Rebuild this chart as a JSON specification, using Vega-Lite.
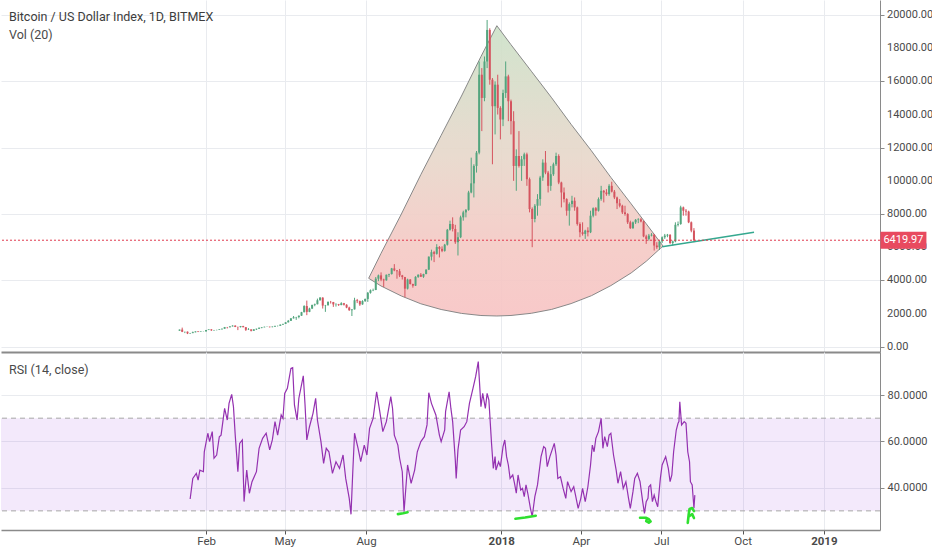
{
  "$schema": "https://vega.github.io/schema/vega-lite/v6.json",
  "padding": 0,
  "background": "#ffffff",
  "spacing": 0,
  "data": {"values": [{}]},
  "config": {
    "view": {"stroke": null},
    "font": "Roboto"
  },
  "datasets": {
    "ohlc": [
      {"t":"2017-01-02","o":965,"h":1035,"l":960,"c":1030},
      {"t":"2017-01-05","o":1030,"h":1150,"l":880,"c":900},
      {"t":"2017-01-08","o":900,"h":910,"l":820,"c":905},
      {"t":"2017-01-11","o":905,"h":915,"l":760,"c":800},
      {"t":"2017-01-14","o":800,"h":830,"l":780,"c":820},
      {"t":"2017-01-17","o":820,"h":910,"l":815,"c":870},
      {"t":"2017-01-20","o":870,"h":925,"l":865,"c":920},
      {"t":"2017-01-23","o":920,"h":930,"l":880,"c":890},
      {"t":"2017-01-26","o":890,"h":920,"l":885,"c":915},
      {"t":"2017-01-29","o":915,"h":925,"l":905,"c":920},
      {"t":"2017-02-01","o":920,"h":1010,"l":915,"c":1005},
      {"t":"2017-02-04","o":1005,"h":1045,"l":1000,"c":1040},
      {"t":"2017-02-07","o":1040,"h":1060,"l":950,"c":990},
      {"t":"2017-02-10","o":990,"h":1010,"l":960,"c":1000},
      {"t":"2017-02-13","o":1000,"h":1020,"l":990,"c":1010},
      {"t":"2017-02-16","o":1010,"h":1050,"l":1005,"c":1045},
      {"t":"2017-02-19","o":1045,"h":1090,"l":1040,"c":1085},
      {"t":"2017-02-22","o":1085,"h":1190,"l":1080,"c":1180},
      {"t":"2017-02-25","o":1180,"h":1190,"l":1100,"c":1170},
      {"t":"2017-02-28","o":1170,"h":1230,"l":1165,"c":1225},
      {"t":"2017-03-03","o":1225,"h":1290,"l":1220,"c":1270},
      {"t":"2017-03-06","o":1270,"h":1290,"l":1180,"c":1190},
      {"t":"2017-03-09","o":1190,"h":1210,"l":1000,"c":1180},
      {"t":"2017-03-12","o":1180,"h":1250,"l":1160,"c":1240},
      {"t":"2017-03-15","o":1240,"h":1260,"l":1170,"c":1175},
      {"t":"2017-03-18","o":1175,"h":1180,"l":950,"c":1020},
      {"t":"2017-03-21","o":1020,"h":1120,"l":1010,"c":1040},
      {"t":"2017-03-24","o":1040,"h":1050,"l":920,"c":960},
      {"t":"2017-03-27","o":960,"h":1060,"l":950,"c":1045},
      {"t":"2017-03-30","o":1045,"h":1090,"l":1010,"c":1080},
      {"t":"2017-04-02","o":1080,"h":1160,"l":1075,"c":1140},
      {"t":"2017-04-05","o":1140,"h":1180,"l":1110,"c":1170},
      {"t":"2017-04-08","o":1170,"h":1210,"l":1165,"c":1200},
      {"t":"2017-04-11","o":1200,"h":1215,"l":1190,"c":1205},
      {"t":"2017-04-14","o":1205,"h":1210,"l":1160,"c":1180},
      {"t":"2017-04-17","o":1180,"h":1220,"l":1170,"c":1210},
      {"t":"2017-04-20","o":1210,"h":1260,"l":1200,"c":1255},
      {"t":"2017-04-23","o":1255,"h":1270,"l":1220,"c":1260},
      {"t":"2017-04-26","o":1260,"h":1340,"l":1255,"c":1330},
      {"t":"2017-04-29","o":1330,"h":1380,"l":1320,"c":1375},
      {"t":"2017-05-02","o":1375,"h":1480,"l":1370,"c":1470},
      {"t":"2017-05-05","o":1470,"h":1610,"l":1460,"c":1560},
      {"t":"2017-05-08","o":1560,"h":1720,"l":1550,"c":1710},
      {"t":"2017-05-11","o":1710,"h":1850,"l":1700,"c":1770},
      {"t":"2017-05-14","o":1770,"h":1800,"l":1620,"c":1790},
      {"t":"2017-05-17","o":1790,"h":1880,"l":1710,"c":1870},
      {"t":"2017-05-20","o":1870,"h":2100,"l":1860,"c":2080},
      {"t":"2017-05-23","o":2080,"h":2500,"l":2070,"c":2450},
      {"t":"2017-05-26","o":2450,"h":2780,"l":1900,"c":2100},
      {"t":"2017-05-29","o":2100,"h":2350,"l":2080,"c":2300},
      {"t":"2017-06-01","o":2300,"h":2530,"l":2270,"c":2520},
      {"t":"2017-06-04","o":2520,"h":2600,"l":2440,"c":2560},
      {"t":"2017-06-07","o":2560,"h":2900,"l":2550,"c":2800},
      {"t":"2017-06-10","o":2800,"h":2990,"l":2780,"c":2960},
      {"t":"2017-06-13","o":2960,"h":2980,"l":2300,"c":2480},
      {"t":"2017-06-16","o":2480,"h":2520,"l":2100,"c":2500},
      {"t":"2017-06-19","o":2500,"h":2730,"l":2480,"c":2700},
      {"t":"2017-06-22","o":2700,"h":2760,"l":2600,"c":2690},
      {"t":"2017-06-25","o":2690,"h":2700,"l":2400,"c":2550},
      {"t":"2017-06-28","o":2550,"h":2620,"l":2420,"c":2560},
      {"t":"2017-07-01","o":2560,"h":2580,"l":2460,"c":2510},
      {"t":"2017-07-04","o":2510,"h":2680,"l":2500,"c":2620},
      {"t":"2017-07-07","o":2620,"h":2640,"l":2480,"c":2530},
      {"t":"2017-07-10","o":2530,"h":2560,"l":2320,"c":2360},
      {"t":"2017-07-13","o":2360,"h":2410,"l":2160,"c":2200},
      {"t":"2017-07-16","o":2200,"h":2260,"l":1850,"c":2250},
      {"t":"2017-07-19","o":2250,"h":2950,"l":2240,"c":2800},
      {"t":"2017-07-22","o":2800,"h":2880,"l":2630,"c":2750},
      {"t":"2017-07-25","o":2750,"h":2780,"l":2460,"c":2550},
      {"t":"2017-07-28","o":2550,"h":2800,"l":2530,"c":2750},
      {"t":"2017-07-31","o":2750,"h":2900,"l":2700,"c":2880},
      {"t":"2017-08-03","o":2880,"h":3300,"l":2700,"c":3250},
      {"t":"2017-08-06","o":3250,"h":3450,"l":3200,"c":3400},
      {"t":"2017-08-09","o":3400,"h":3500,"l":3350,"c":3420},
      {"t":"2017-08-12","o":3420,"h":4200,"l":3410,"c":4100},
      {"t":"2017-08-15","o":4100,"h":4350,"l":3950,"c":4300},
      {"t":"2017-08-18","o":4300,"h":4480,"l":3950,"c":4050},
      {"t":"2017-08-21","o":4050,"h":4100,"l":3600,"c":4000},
      {"t":"2017-08-24","o":4000,"h":4350,"l":3980,"c":4340},
      {"t":"2017-08-27","o":4340,"h":4400,"l":4200,"c":4380},
      {"t":"2017-08-30","o":4380,"h":4750,"l":4350,"c":4720},
      {"t":"2017-09-02","o":4720,"h":4980,"l":4550,"c":4600},
      {"t":"2017-09-05","o":4600,"h":4620,"l":4100,"c":4550},
      {"t":"2017-09-08","o":4550,"h":4690,"l":4200,"c":4300},
      {"t":"2017-09-11","o":4300,"h":4330,"l":4050,"c":4200},
      {"t":"2017-09-14","o":4200,"h":4210,"l":2980,"c":3500},
      {"t":"2017-09-17","o":3500,"h":4100,"l":3450,"c":4050},
      {"t":"2017-09-20","o":4050,"h":4080,"l":3750,"c":3780},
      {"t":"2017-09-23","o":3780,"h":3800,"l":3560,"c":3680},
      {"t":"2017-09-26","o":3680,"h":4250,"l":3660,"c":4210},
      {"t":"2017-09-29","o":4210,"h":4360,"l":4150,"c":4340},
      {"t":"2017-10-02","o":4340,"h":4440,"l":4210,"c":4220},
      {"t":"2017-10-05","o":4220,"h":4400,"l":4150,"c":4380},
      {"t":"2017-10-08","o":4380,"h":4660,"l":4370,"c":4650},
      {"t":"2017-10-11","o":4650,"h":5440,"l":4620,"c":5430},
      {"t":"2017-10-14","o":5430,"h":5850,"l":5200,"c":5700},
      {"t":"2017-10-17","o":5700,"h":5780,"l":5100,"c":5600},
      {"t":"2017-10-20","o":5600,"h":6180,"l":5550,"c":6010},
      {"t":"2017-10-23","o":6010,"h":6070,"l":5380,"c":5900},
      {"t":"2017-10-26","o":5900,"h":6050,"l":5700,"c":5780},
      {"t":"2017-10-29","o":5780,"h":6200,"l":5730,"c":6150},
      {"t":"2017-11-01","o":6150,"h":7100,"l":6100,"c":7050},
      {"t":"2017-11-04","o":7050,"h":7600,"l":7000,"c":7400},
      {"t":"2017-11-07","o":7400,"h":7800,"l":6950,"c":7100},
      {"t":"2017-11-10","o":7100,"h":7350,"l":6200,"c":6300},
      {"t":"2017-11-13","o":6300,"h":6900,"l":5500,"c":6600},
      {"t":"2017-11-16","o":6600,"h":7900,"l":6550,"c":7800},
      {"t":"2017-11-19","o":7800,"h":8200,"l":7600,"c":8100},
      {"t":"2017-11-22","o":8100,"h":8300,"l":7800,"c":8250},
      {"t":"2017-11-25","o":8250,"h":9400,"l":8200,"c":9300},
      {"t":"2017-11-28","o":9300,"h":11400,"l":9250,"c":9850},
      {"t":"2017-12-01","o":9850,"h":11000,"l":9000,"c":10900},
      {"t":"2017-12-04","o":10900,"h":11800,"l":10500,"c":11700},
      {"t":"2017-12-07","o":11700,"h":17200,"l":11600,"c":16400},
      {"t":"2017-12-10","o":16400,"h":16800,"l":13000,"c":15000},
      {"t":"2017-12-13","o":15000,"h":17500,"l":14800,"c":17200},
      {"t":"2017-12-16","o":17200,"h":19700,"l":16800,"c":19100},
      {"t":"2017-12-19","o":19100,"h":19200,"l":15800,"c":16100},
      {"t":"2017-12-22","o":16100,"h":16200,"l":11000,"c":14500},
      {"t":"2017-12-25","o":14500,"h":16000,"l":12800,"c":15800},
      {"t":"2017-12-28","o":15800,"h":16400,"l":14000,"c":14400},
      {"t":"2017-12-31","o":14400,"h":14500,"l":12500,"c":13700},
      {"t":"2018-01-03","o":13700,"h":15500,"l":13300,"c":15300},
      {"t":"2018-01-06","o":15300,"h":17200,"l":15000,"c":16300},
      {"t":"2018-01-09","o":16300,"h":16400,"l":13600,"c":14800},
      {"t":"2018-01-12","o":14800,"h":14900,"l":12800,"c":13600},
      {"t":"2018-01-15","o":13600,"h":14200,"l":10000,"c":10900},
      {"t":"2018-01-18","o":10900,"h":11900,"l":9400,"c":11500},
      {"t":"2018-01-21","o":11500,"h":13000,"l":10800,"c":10900},
      {"t":"2018-01-24","o":10900,"h":11500,"l":10000,"c":11300},
      {"t":"2018-01-27","o":11300,"h":11700,"l":10900,"c":11600},
      {"t":"2018-01-30","o":11600,"h":11700,"l":9700,"c":10100},
      {"t":"2018-02-02","o":10100,"h":10200,"l":8100,"c":8300},
      {"t":"2018-02-05","o":8300,"h":8400,"l":6000,"c":7700},
      {"t":"2018-02-08","o":7700,"h":8600,"l":7500,"c":8500},
      {"t":"2018-02-11","o":8500,"h":9200,"l":7900,"c":8900},
      {"t":"2018-02-14","o":8900,"h":10300,"l":8500,"c":10200},
      {"t":"2018-02-17","o":10200,"h":11300,"l":10000,"c":11100},
      {"t":"2018-02-20","o":11100,"h":11800,"l":10400,"c":10500},
      {"t":"2018-02-23","o":10500,"h":10600,"l":9300,"c":9700},
      {"t":"2018-02-26","o":9700,"h":10900,"l":9400,"c":10400},
      {"t":"2018-03-01","o":10400,"h":11100,"l":10300,"c":11000},
      {"t":"2018-03-04","o":11000,"h":11700,"l":10900,"c":11500},
      {"t":"2018-03-07","o":11500,"h":11600,"l":9800,"c":9900},
      {"t":"2018-03-10","o":9900,"h":9950,"l":8400,"c":9300},
      {"t":"2018-03-13","o":9300,"h":9600,"l":8700,"c":8900},
      {"t":"2018-03-16","o":8900,"h":8950,"l":7900,"c":8200},
      {"t":"2018-03-19","o":8200,"h":8700,"l":7300,"c":8600},
      {"t":"2018-03-22","o":8600,"h":9100,"l":8400,"c":8800},
      {"t":"2018-03-25","o":8800,"h":9000,"l":8200,"c":8400},
      {"t":"2018-03-28","o":8400,"h":8450,"l":7300,"c":7400},
      {"t":"2018-03-31","o":7400,"h":7500,"l":6600,"c":6900},
      {"t":"2018-04-03","o":6900,"h":7500,"l":6700,"c":6800},
      {"t":"2018-04-06","o":6800,"h":7050,"l":6500,"c":7000},
      {"t":"2018-04-09","o":7000,"h":7200,"l":6650,"c":6900},
      {"t":"2018-04-12","o":6900,"h":8200,"l":6850,"c":7900},
      {"t":"2018-04-15","o":7900,"h":8400,"l":7800,"c":8350},
      {"t":"2018-04-18","o":8350,"h":8420,"l":7900,"c":8200},
      {"t":"2018-04-21","o":8200,"h":9000,"l":8150,"c":8900},
      {"t":"2018-04-24","o":8900,"h":9700,"l":8800,"c":9400},
      {"t":"2018-04-27","o":9400,"h":9450,"l":8700,"c":9300},
      {"t":"2018-04-30","o":9300,"h":9500,"l":9100,"c":9200},
      {"t":"2018-05-03","o":9200,"h":9800,"l":9100,"c":9700},
      {"t":"2018-05-06","o":9700,"h":9950,"l":9300,"c":9350},
      {"t":"2018-05-09","o":9350,"h":9450,"l":8900,"c":9000},
      {"t":"2018-05-12","o":9000,"h":9050,"l":8300,"c":8650},
      {"t":"2018-05-15","o":8650,"h":8900,"l":8400,"c":8500},
      {"t":"2018-05-18","o":8500,"h":8560,"l":8000,"c":8100},
      {"t":"2018-05-21","o":8100,"h":8500,"l":7900,"c":8000},
      {"t":"2018-05-24","o":8000,"h":8050,"l":7400,"c":7500},
      {"t":"2018-05-27","o":7500,"h":7600,"l":7100,"c":7150},
      {"t":"2018-05-30","o":7150,"h":7550,"l":7100,"c":7500},
      {"t":"2018-06-02","o":7500,"h":7700,"l":7400,"c":7650},
      {"t":"2018-06-05","o":7650,"h":7750,"l":7450,"c":7680},
      {"t":"2018-06-08","o":7680,"h":7750,"l":7500,"c":7550},
      {"t":"2018-06-11","o":7550,"h":7600,"l":6600,"c":6650},
      {"t":"2018-06-14","o":6650,"h":6750,"l":6200,"c":6500},
      {"t":"2018-06-17","o":6500,"h":6800,"l":6400,"c":6700},
      {"t":"2018-06-20","o":6700,"h":6850,"l":6650,"c":6750},
      {"t":"2018-06-23","o":6750,"h":6800,"l":5800,"c":6100},
      {"t":"2018-06-26","o":6100,"h":6300,"l":5900,"c":6000},
      {"t":"2018-06-29","o":6000,"h":6400,"l":5830,"c":6350},
      {"t":"2018-07-02","o":6350,"h":6650,"l":6250,"c":6600},
      {"t":"2018-07-05","o":6600,"h":6800,"l":6500,"c":6700},
      {"t":"2018-07-08","o":6700,"h":6800,"l":6600,"c":6750},
      {"t":"2018-07-11","o":6750,"h":6780,"l":6200,"c":6250},
      {"t":"2018-07-14","o":6250,"h":6400,"l":6100,"c":6350},
      {"t":"2018-07-17","o":6350,"h":7500,"l":6300,"c":7350},
      {"t":"2018-07-20","o":7350,"h":7550,"l":7250,"c":7400},
      {"t":"2018-07-23","o":7400,"h":8500,"l":7350,"c":8400},
      {"t":"2018-07-26","o":8400,"h":8450,"l":7900,"c":8200},
      {"t":"2018-07-29","o":8200,"h":8300,"l":7900,"c":8150},
      {"t":"2018-08-01","o":8150,"h":8200,"l":7450,"c":7500},
      {"t":"2018-08-04","o":7500,"h":7550,"l":6900,"c":7000},
      {"t":"2018-08-07","o":7000,"h":7150,"l":6300,"c":6420}
    ],
    "rsi": [
      {"t":"2017-01-14","v":35.1},{"t":"2017-01-17","v":44.0},{"t":"2017-01-21","v":46.2},{"t":"2017-01-23","v":43.3},
      {"t":"2017-01-25","v":47.6},{"t":"2017-01-29","v":46.9},{"t":"2017-01-30","v":55.5},{"t":"2017-02-03","v":63.5},
      {"t":"2017-02-05","v":59.9},{"t":"2017-02-08","v":64.2},{"t":"2017-02-10","v":52.7},{"t":"2017-02-13","v":54.1},
      {"t":"2017-02-16","v":62.0},{"t":"2017-02-18","v":62.7},{"t":"2017-02-22","v":74.2},{"t":"2017-02-25","v":69.2},
      {"t":"2017-02-27","v":76.4},{"t":"2017-03-02","v":80.3},{"t":"2017-03-04","v":75.0},{"t":"2017-03-06","v":62.7},
      {"t":"2017-03-09","v":46.9},{"t":"2017-03-11","v":59.1},{"t":"2017-03-14","v":60.6},{"t":"2017-03-16","v":34.0},
      {"t":"2017-03-19","v":47.6},{"t":"2017-03-22","v":37.6},{"t":"2017-03-25","v":42.6},{"t":"2017-03-30","v":46.9},
      {"t":"2017-04-02","v":57.0},{"t":"2017-04-06","v":61.3},{"t":"2017-04-10","v":63.5},{"t":"2017-04-14","v":56.3},
      {"t":"2017-04-17","v":60.6},{"t":"2017-04-20","v":68.5},{"t":"2017-04-23","v":62.7},{"t":"2017-04-27","v":71.4},
      {"t":"2017-04-29","v":69.9},{"t":"2017-05-01","v":80.7},{"t":"2017-05-04","v":82.9},{"t":"2017-05-08","v":91.5},
      {"t":"2017-05-10","v":91.8},{"t":"2017-05-12","v":75.7},{"t":"2017-05-15","v":69.2},{"t":"2017-05-17","v":78.6},
      {"t":"2017-05-22","v":88.3},{"t":"2017-05-24","v":75.7},{"t":"2017-05-26","v":60.6},{"t":"2017-05-29","v":66.3},
      {"t":"2017-06-02","v":72.1},{"t":"2017-06-05","v":78.6},{"t":"2017-06-07","v":69.2},{"t":"2017-06-11","v":59.9},
      {"t":"2017-06-14","v":50.5},{"t":"2017-06-17","v":57.0},{"t":"2017-06-20","v":55.5},{"t":"2017-06-24","v":46.2},
      {"t":"2017-06-28","v":51.2},{"t":"2017-07-02","v":48.3},{"t":"2017-07-06","v":54.1},{"t":"2017-07-09","v":44.0},
      {"t":"2017-07-13","v":35.4},{"t":"2017-07-15","v":28.5},{"t":"2017-07-17","v":46.9},{"t":"2017-07-19","v":63.5},
      {"t":"2017-07-23","v":57.0},{"t":"2017-07-26","v":51.2},{"t":"2017-07-30","v":58.4},{"t":"2017-08-02","v":54.1},
      {"t":"2017-08-05","v":65.6},{"t":"2017-08-09","v":69.9},{"t":"2017-08-13","v":81.4},{"t":"2017-08-16","v":74.2},
      {"t":"2017-08-20","v":64.2},{"t":"2017-08-24","v":68.5},{"t":"2017-08-29","v":79.3},{"t":"2017-08-31","v":74.2},
      {"t":"2017-09-02","v":62.7},{"t":"2017-09-06","v":58.4},{"t":"2017-09-08","v":52.7},{"t":"2017-09-11","v":46.9},
      {"t":"2017-09-13","v":29.6},{"t":"2017-09-17","v":49.8},{"t":"2017-09-21","v":41.9},{"t":"2017-09-25","v":47.6},
      {"t":"2017-09-28","v":55.5},{"t":"2017-10-02","v":59.9},{"t":"2017-10-06","v":62.0},{"t":"2017-10-09","v":67.1},
      {"t":"2017-10-11","v":81.0},{"t":"2017-10-14","v":76.4},{"t":"2017-10-19","v":71.4},{"t":"2017-10-23","v":62.7},
      {"t":"2017-10-25","v":59.9},{"t":"2017-10-29","v":64.9},{"t":"2017-10-30","v":72.8},{"t":"2017-11-03","v":81.4},
      {"t":"2017-11-05","v":74.2},{"t":"2017-11-07","v":68.5},{"t":"2017-11-10","v":51.9},{"t":"2017-11-11","v":44.0},
      {"t":"2017-11-13","v":56.3},{"t":"2017-11-16","v":64.9},{"t":"2017-11-20","v":66.3},{"t":"2017-11-23","v":68.5},
      {"t":"2017-11-26","v":76.4},{"t":"2017-11-30","v":82.9},{"t":"2017-12-03","v":87.9},{"t":"2017-12-06","v":94.4},
      {"t":"2017-12-09","v":75.0},{"t":"2017-12-11","v":80.7},{"t":"2017-12-14","v":74.2},{"t":"2017-12-16","v":80.7},
      {"t":"2017-12-18","v":77.8},{"t":"2017-12-21","v":59.1},{"t":"2017-12-23","v":48.3},{"t":"2017-12-25","v":53.4},
      {"t":"2017-12-26","v":47.6},{"t":"2017-12-29","v":51.2},{"t":"2017-12-31","v":49.1},{"t":"2018-01-03","v":57.7},
      {"t":"2018-01-05","v":60.6},{"t":"2018-01-07","v":53.4},{"t":"2018-01-09","v":49.8},{"t":"2018-01-11","v":44.0},
      {"t":"2018-01-14","v":45.5},{"t":"2018-01-16","v":41.9},{"t":"2018-01-18","v":37.6},{"t":"2018-01-20","v":45.5},
      {"t":"2018-01-23","v":39.0},{"t":"2018-01-25","v":39.7},{"t":"2018-01-27","v":36.1},{"t":"2018-01-29","v":41.2},
      {"t":"2018-01-31","v":37.6},{"t":"2018-02-03","v":31.1},{"t":"2018-02-05","v":27.5},{"t":"2018-02-08","v":36.1},
      {"t":"2018-02-11","v":41.2},{"t":"2018-02-15","v":53.4},{"t":"2018-02-18","v":57.7},{"t":"2018-02-20","v":57.0},
      {"t":"2018-02-22","v":49.1},{"t":"2018-02-25","v":53.4},{"t":"2018-03-02","v":59.1},{"t":"2018-03-04","v":54.1},
      {"t":"2018-03-06","v":44.0},{"t":"2018-03-09","v":44.7},{"t":"2018-03-12","v":39.7},{"t":"2018-03-15","v":35.4},
      {"t":"2018-03-17","v":42.6},{"t":"2018-03-21","v":38.3},{"t":"2018-03-24","v":40.4},{"t":"2018-03-26","v":36.8},
      {"t":"2018-03-29","v":31.1},{"t":"2018-04-01","v":35.4},{"t":"2018-04-03","v":39.7},{"t":"2018-04-06","v":34.0},
      {"t":"2018-04-09","v":40.4},{"t":"2018-04-12","v":49.8},{"t":"2018-04-14","v":58.4},{"t":"2018-04-16","v":55.5},
      {"t":"2018-04-18","v":61.3},{"t":"2018-04-21","v":64.2},{"t":"2018-04-24","v":69.9},{"t":"2018-04-26","v":57.0},
      {"t":"2018-04-28","v":62.0},{"t":"2018-05-01","v":57.7},{"t":"2018-05-03","v":62.7},{"t":"2018-05-05","v":63.5},
      {"t":"2018-05-08","v":54.1},{"t":"2018-05-11","v":47.6},{"t":"2018-05-13","v":41.9},{"t":"2018-05-16","v":46.9},
      {"t":"2018-05-19","v":39.7},{"t":"2018-05-22","v":42.6},{"t":"2018-05-25","v":35.4},{"t":"2018-05-27","v":31.1},
      {"t":"2018-05-30","v":38.3},{"t":"2018-06-01","v":44.0},{"t":"2018-06-04","v":46.2},{"t":"2018-06-07","v":42.6},
      {"t":"2018-06-10","v":34.0},{"t":"2018-06-12","v":28.9},{"t":"2018-06-14","v":34.0},{"t":"2018-06-16","v":35.4},
      {"t":"2018-06-17","v":40.4},{"t":"2018-06-19","v":41.2},{"t":"2018-06-21","v":34.0},{"t":"2018-06-23","v":36.8},
      {"t":"2018-06-25","v":34.0},{"t":"2018-06-27","v":31.8},{"t":"2018-06-30","v":44.0},{"t":"2018-07-02","v":49.8},
      {"t":"2018-07-06","v":53.4},{"t":"2018-07-09","v":48.3},{"t":"2018-07-11","v":42.6},{"t":"2018-07-13","v":45.5},
      {"t":"2018-07-15","v":55.5},{"t":"2018-07-18","v":64.9},{"t":"2018-07-20","v":67.8},{"t":"2018-07-21","v":68.5},
      {"t":"2018-07-22","v":77.1},{"t":"2018-07-24","v":67.1},{"t":"2018-07-27","v":68.5},{"t":"2018-07-29","v":67.8},
      {"t":"2018-07-31","v":55.5},{"t":"2018-08-02","v":51.2},{"t":"2018-08-03","v":42.6},{"t":"2018-08-05","v":41.2},
      {"t":"2018-08-07","v":31.1},{"t":"2018-08-08","v":36.8}
    ],
    "cup": [
      {"t":"2017-08-04","top":4125,"bot":4125},
      {"t":"2017-08-18","top":5632,"bot":3660},
      {"t":"2017-09-10","top":8002,"bot":3057},
      {"t":"2017-10-02","top":10378,"bot":2587},
      {"t":"2017-10-25","top":12747,"bot":2243},
      {"t":"2017-11-17","top":15117,"bot":2008},
      {"t":"2017-12-09","top":17493,"bot":1881},
      {"t":"2017-12-27","top":19356,"bot":1851},
      {"t":"2018-01-12","top":18211,"bot":1882},
      {"t":"2018-02-04","top":16613,"bot":2014},
      {"t":"2018-02-27","top":15009,"bot":2249},
      {"t":"2018-03-21","top":13411,"bot":2599},
      {"t":"2018-04-13","top":11813,"bot":3075},
      {"t":"2018-05-05","top":10209,"bot":3684},
      {"t":"2018-05-28","top":8611,"bot":4450},
      {"t":"2018-06-14","top":7411,"bot":5150},
      {"t":"2018-07-03","top":6072,"bot":6072}
    ],
    "trend": [
      {"t":"2018-07-02","p":6030},
      {"t":"2018-10-14","p":6898}
    ],
    "priceTicks": [
      {"p":0},{"p":2000},{"p":4000},{"p":6000},{"p":8000},{"p":10000},
      {"p":12000},{"p":14000},{"p":16000},{"p":18000},{"p":20000}
    ],
    "ink": [
      {"g":1,"i":0,"t":"2017-09-06","v":28.6},{"g":1,"i":1,"t":"2017-09-12","v":29.0},{"g":1,"i":2,"t":"2017-09-17","v":29.4},
      {"g":2,"i":0,"t":"2018-01-17","v":26.6},{"g":2,"i":1,"t":"2018-01-28","v":27.1},{"g":2,"i":2,"t":"2018-02-09","v":27.9},
      {"g":3,"i":0,"t":"2018-06-07","v":27.0},{"g":3,"i":1,"t":"2018-06-14","v":27.0},{"g":3,"i":2,"t":"2018-06-17","v":26.4},
      {"g":3,"i":3,"t":"2018-06-19","v":25.4},{"g":3,"i":4,"t":"2018-06-17","v":24.9},{"g":3,"i":5,"t":"2018-06-14","v":25.6},
      {"g":3,"i":6,"t":"2018-06-15","v":26.7},
      {"g":4,"i":0,"t":"2018-07-31","v":24.8},{"g":4,"i":1,"t":"2018-08-01","v":28.3},{"g":4,"i":2,"t":"2018-08-02","v":30.8},
      {"g":4,"i":3,"t":"2018-08-05","v":31.2},{"g":4,"i":4,"t":"2018-08-07","v":29.9},
      {"g":5,"i":0,"t":"2018-08-02","v":27.8},{"g":5,"i":1,"t":"2018-08-05","v":28.6},{"g":5,"i":2,"t":"2018-08-07","v":26.9}
    ]
  },
  "vconcat": [
    {
      "width": 879,
      "height": 352,
      "layer": [
        {
          "data": {"name": "cup"},
          "mark": {
            "type": "area",
            "opacity": 0.92,
            "stroke": "#7f7f7f",
            "strokeWidth": 1,
            "color": {
              "gradient": "linear", "x1": 0, "y1": 0, "x2": 0, "y2": 1,
              "stops": [
                {"offset": 0, "color": "#cde2c9"},
                {"offset": 0.45, "color": "#e8d8cb"},
                {"offset": 0.75, "color": "#f5cbc6"},
                {"offset": 1, "color": "#f8c5c5"}
              ]
            }
          },
          "encoding": {
            "x": {"field": "t", "type": "temporal",
              "scale": {"type": "utc", "domain": [1465862400000, 1551787200000]},
              "axis": {"orient": "bottom", "labels": false, "ticks": false, "domain": true, "domainWidth": 2, "domainColor": "#8a8a8a",
                "grid": true, "gridColor": "#e9ebef", "title": null,
                "values": [1485907200000, 1493596800000, 1501545600000, 1514764800000, 1522540800000, 1530403200000, 1538352000000, 1546300800000]}},
            "y": {"field": "top", "type": "quantitative",
              "scale": {"domain": [-320, 20906], "nice": false, "zero": false},
              "axis": {"orient": "right", "values": [0, 2000, 4000, 6000, 8000, 10000, 12000, 14000, 16000, 18000, 20000],
                "labels": false, "grid": true, "gridColor": "#e9ebef", "tickSize": 4, "tickColor": "#8a8a8a", "domainColor": "#8a8a8a",
                "title": null}},
            "y2": {"field": "bot"}
          }
        },
        {
          "data": {"name": "ohlc"},
          "mark": {"type": "rule", "strokeWidth": 1},
          "encoding": {
            "x": {"field": "t", "type": "temporal", "scale": {"type": "utc", "domain": [1465862400000, 1551787200000]}},
            "y": {"field": "l", "type": "quantitative", "scale": {"domain": [-320, 20906], "nice": false, "zero": false}},
            "y2": {"field": "h"},
            "color": {"condition": {"test": "datum.c >= datum.o", "value": "#53a57e"}, "value": "#d5545f"}
          }
        },
        {
          "data": {"name": "ohlc"},
          "mark": {"type": "rule", "strokeWidth": 2},
          "encoding": {
            "x": {"field": "t", "type": "temporal", "scale": {"type": "utc", "domain": [1465862400000, 1551787200000]}},
            "y": {"field": "o", "type": "quantitative", "scale": {"domain": [-320, 20906], "nice": false, "zero": false}},
            "y2": {"field": "c"},
            "color": {"condition": {"test": "datum.c >= datum.o", "value": "#53a57e"}, "value": "#d5545f"}
          }
        },
        {
          "data": {"name": "trend"},
          "mark": {"type": "line", "color": "#35a88f", "strokeWidth": 1.5},
          "encoding": {
            "x": {"field": "t", "type": "temporal", "scale": {"type": "utc", "domain": [1465862400000, 1551787200000]}},
            "y": {"field": "p", "type": "quantitative", "scale": {"domain": [-320, 20906], "nice": false, "zero": false}}
          }
        },
        {
          "mark": {"type": "rule", "color": "#e0394e", "strokeDash": [2, 2], "strokeWidth": 1},
          "encoding": {
            "y": {"datum": 6419.97, "type": "quantitative", "scale": {"domain": [-320, 20906], "nice": false, "zero": false}}
          }
        },
        {
          "data": {"name": "priceTicks"},
          "mark": {"type": "text", "align": "left", "baseline": "middle", "dx": 7, "font": "Roboto", "fontSize": 11, "color": "#4a4a4a"},
          "encoding": {
            "x": {"datum": {"year": 2019, "month": 3, "date": 5, "hours": 12, "utc": true}, "type": "temporal",
              "scale": {"type": "utc", "domain": [1465862400000, 1551787200000]}},
            "y": {"field": "p", "type": "quantitative", "scale": {"domain": [-320, 20906], "nice": false, "zero": false}},
            "text": {"field": "p", "type": "quantitative", "format": ".2f"}
          }
        },
        {
          "mark": {"type": "rect", "color": "#e84a5f", "width": 46, "height": 17},
          "encoding": {
            "x": {"datum": {"year": 2019, "month": 4, "date": 1, "utc": true}, "type": "temporal",
              "scale": {"type": "utc", "domain": [1465862400000, 1551787200000]}},
            "y": {"datum": 6419.97, "type": "quantitative", "scale": {"domain": [-320, 20906], "nice": false, "zero": false}}
          }
        },
        {
          "mark": {"type": "text", "text": "6419.97", "color": "#ffffff", "font": "Roboto", "fontSize": 11, "align": "center", "baseline": "middle"},
          "encoding": {
            "x": {"datum": {"year": 2019, "month": 4, "date": 1, "utc": true}, "type": "temporal",
              "scale": {"type": "utc", "domain": [1465862400000, 1551787200000]}},
            "y": {"datum": 6419.97, "type": "quantitative", "scale": {"domain": [-320, 20906], "nice": false, "zero": false}}
          }
        },
        {
          "mark": {"type": "text", "text": "Bitcoin / US Dollar Index, 1D, BITMEX", "color": "#3d3d3d", "font": "Roboto", "fontSize": 12.5, "align": "left", "baseline": "middle"},
          "encoding": {
            "x": {"datum": {"year": 2016, "month": 6, "date": 23, "utc": true}, "type": "temporal",
              "scale": {"type": "utc", "domain": [1465862400000, 1551787200000]}},
            "y": {"datum": 19881, "type": "quantitative", "scale": {"domain": [-320, 20906], "nice": false, "zero": false}}
          }
        },
        {
          "mark": {"type": "text", "text": "Vol (20)", "color": "#4a4a4a", "font": "Roboto", "fontSize": 12.5, "align": "left", "baseline": "middle"},
          "encoding": {
            "x": {"datum": {"year": 2016, "month": 6, "date": 23, "utc": true}, "type": "temporal",
              "scale": {"type": "utc", "domain": [1465862400000, 1551787200000]}},
            "y": {"datum": 18796, "type": "quantitative", "scale": {"domain": [-320, 20906], "nice": false, "zero": false}}
          }
        }
      ]
    },
    {
      "width": 879,
      "height": 178,
      "layer": [
        {
          "mark": {"type": "rect", "color": "#9d4edd", "opacity": 0.12},
          "encoding": {
            "y": {"datum": 70, "type": "quantitative", "scale": {"domain": [21.74, 98.56], "nice": false, "zero": false}},
            "y2": {"datum": 30}
          }
        },
        {
          "mark": {"type": "rule", "color": "#a6a6a6", "strokeDash": [5, 4], "strokeWidth": 1},
          "encoding": {
            "y": {"datum": 70, "type": "quantitative", "scale": {"domain": [21.74, 98.56], "nice": false, "zero": false}}
          }
        },
        {
          "mark": {"type": "rule", "color": "#a6a6a6", "strokeDash": [5, 4], "strokeWidth": 1},
          "encoding": {
            "y": {"datum": 30, "type": "quantitative", "scale": {"domain": [21.74, 98.56], "nice": false, "zero": false}}
          }
        },
        {
          "data": {"name": "rsi"},
          "mark": {"type": "line", "color": "#9431b0", "strokeWidth": 1.2},
          "encoding": {
            "x": {"field": "t", "type": "temporal",
              "scale": {"type": "utc", "domain": [1465862400000, 1551787200000]},
              "axis": {"orient": "bottom", "ticks": true, "tickSize": 4, "tickColor": "#555555", "domain": true, "domainWidth": 1.5, "domainColor": "#8a8a8a",
                "grid": true, "gridColor": "#e9ebef", "title": null,
                "labelPadding": 1, "labelFont": "Roboto", "labelFontSize": 11.5, "labelColor": "#4a4a4a", "labelOverlap": false,
                "labelExpr": "utcFormat(datum.value, '%m') == '01' ? utcFormat(datum.value, '%Y') : utcFormat(datum.value, '%b')",
                "labelFontWeight": {"condition": {"test": "utcFormat(datum.value, '%m') == '01'", "value": "bold"}, "value": "normal"},
                "values": [1485907200000, 1493596800000, 1501545600000, 1514764800000, 1522540800000, 1530403200000, 1538352000000, 1546300800000]}},
            "y": {"field": "v", "type": "quantitative",
              "scale": {"domain": [21.74, 98.56], "nice": false, "zero": false},
              "axis": {"orient": "right", "values": [40, 60, 80], "format": ".4f", "labelOverlap": false, "grid": true, "gridColor": "#e9ebef",
                "tickSize": 4, "tickColor": "#8a8a8a", "domainColor": "#8a8a8a",
                "labelPadding": 3, "labelFont": "Roboto", "labelFontSize": 11, "labelColor": "#4a4a4a", "title": null}}
          }
        },
        {
          "data": {"name": "ink"},
          "mark": {"type": "line", "color": "#2fe02f", "strokeWidth": 2.6, "strokeCap": "round", "strokeJoin": "round"},
          "encoding": {
            "x": {"field": "t", "type": "temporal", "scale": {"type": "utc", "domain": [1465862400000, 1551787200000]}},
            "y": {"field": "v", "type": "quantitative", "scale": {"domain": [21.74, 98.56], "nice": false, "zero": false}},
            "detail": {"field": "g"},
            "order": {"field": "i"}
          }
        },
        {
          "mark": {"type": "text", "text": "RSI (14, close)", "color": "#4a4a4a", "font": "Roboto", "fontSize": 12.5, "align": "left", "baseline": "middle"},
          "encoding": {
            "x": {"datum": {"year": 2016, "month": 6, "date": 23, "utc": true}, "type": "temporal",
              "scale": {"type": "utc", "domain": [1465862400000, 1551787200000]}},
            "y": {"datum": 90.8, "type": "quantitative", "scale": {"domain": [21.74, 98.56], "nice": false, "zero": false}}
          }
        }
      ]
    }
  ]
}
